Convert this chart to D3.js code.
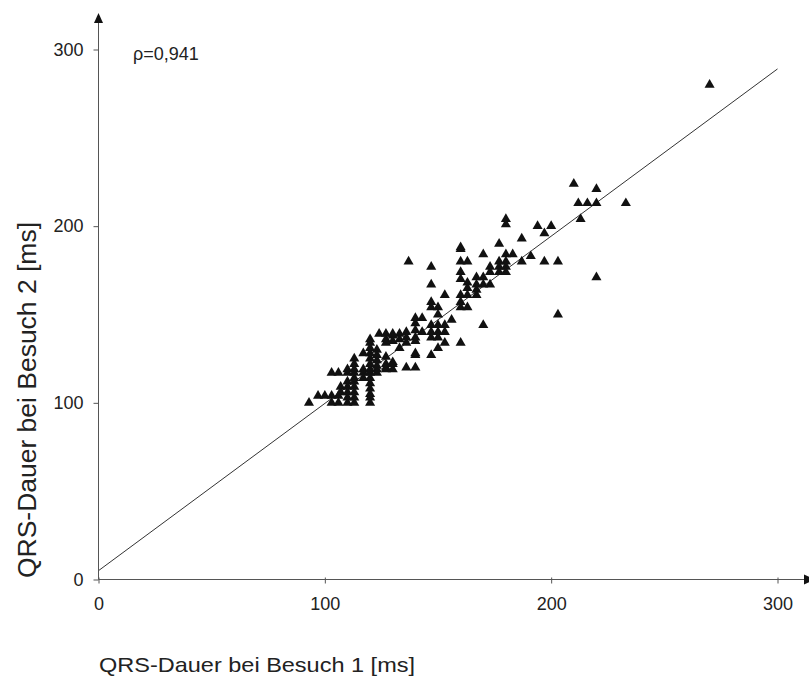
<!DOCTYPE html>
<html>
<head>
<meta charset="utf-8">
<script src="https://cdn.jsdelivr.net/npm/d3@7"></script>
<style>
  html, body { margin: 0; padding: 0; background: #fff; }
  svg { display: block; font-family: "Liberation Sans", Arial, sans-serif; }
</style>
</head>
<body>
<svg id="chart" width="809" height="677"></svg>
<script>
// ---- data ----
const xTicks = [0, 100, 200, 300];
const yTicks = [0, 100, 200, 300];
const xTitle = "QRS-Dauer bei Besuch 1 [ms]";
const yTitle = "QRS-Dauer bei Besuch 2 [ms]";
const rhoLabel = "\u03C1=0,941";
const fitX = [0, 300];
const fitY = [5, 289];
const visit1 = [
  93, 97, 100, 103, 103, 106, 106, 110, 113,
  107, 107, 110, 110, 110, 110, 113, 113, 113, 113, 113,
  103, 106, 110, 110, 113, 113, 113, 113, 117, 117, 117,
  120, 120, 120, 120, 120, 120, 120, 120, 120, 120, 120, 120, 120, 120,
  123, 123, 123, 123, 123,
  127, 127, 127, 127, 127, 127,
  130, 130, 130, 130, 130,
  133, 133, 133,
  136, 136, 136, 136,
  140, 140, 140, 140, 140, 140, 140,
  143, 143,
  147, 147, 147, 147, 147, 147,
  150, 150, 150, 150, 150,
  153, 153, 153,
  156,
  160, 160, 160, 160, 160, 160, 160, 160,
  163, 163, 163, 163, 163,
  167, 167, 167, 167,
  170, 170, 170, 170,
  173, 173, 173,
  177, 177, 177, 177,
  180, 180, 180, 180, 180, 180,
  183, 187, 187, 191,
  194, 197, 197, 200, 203, 203,
  210, 212, 213, 216, 220, 220, 220, 233, 270,
  137, 147, 147, 124, 127, 130, 153, 150, 140, 160, 123, 117
];
const visit2 = [
  100, 104, 104, 104, 100, 104, 100, 100, 100,
  109, 106, 112, 109, 106, 103, 114, 112, 109, 106, 103,
  117, 117, 119, 117, 125, 122, 119, 117, 119, 117, 114,
  136, 134, 131, 128, 125, 122, 119, 117, 114, 111, 108, 105, 103, 100,
  130, 124, 121, 119, 117,
  136, 134, 126, 122, 119, 120,
  138, 135, 123, 119, 122,
  139, 136, 131,
  140, 137, 134, 120,
  148, 145, 141, 137, 135, 127, 120,
  148, 140,
  157, 154, 144, 140, 137, 127,
  154, 150, 140, 137, 131,
  161, 140, 134,
  147,
  187, 180, 174, 170, 161, 157, 154, 134,
  180, 168, 165, 161, 154,
  171, 167, 164, 161,
  184, 171, 167, 144,
  177, 174, 167,
  190, 180, 177, 174,
  204, 201, 184, 180, 177, 174,
  184, 193, 180, 183,
  200, 196, 180, 200, 180, 150,
  224, 213, 204, 213, 221, 213, 171, 213, 280,
  180, 177, 167, 139, 139, 139, 144, 144, 128, 188, 127, 128
];

// ---- layout ----
const svg = d3.select("#chart");
const x = d3.scaleLinear().domain([0, 300]).range([98.5, 777.5]);
const y = d3.scaleLinear().domain([0, 300]).range([579.5, 49.5]);
const axisColor = "#555";

// regression line
svg.append("line")
  .attr("x1", x(fitX[0])).attr("y1", y(fitY[0]))
  .attr("x2", x(fitX[1])).attr("y2", y(fitY[1]))
  .attr("stroke", "#333").attr("stroke-width", 1);

// x axis
const gx = svg.append("g").attr("transform", `translate(0,${y(0)})`)
  .call(d3.axisBottom(x).tickValues(xTicks).tickSize(4).tickPadding(14));
gx.select(".domain").remove();
gx.selectAll(".tick line").attr("stroke", axisColor).attr("y1", -2);
gx.selectAll(".tick text").attr("font-size", 18).attr("fill", "#222")
  .attr("font-family", "'Liberation Sans', Arial, sans-serif");
svg.append("line").attr("x1", x(0)).attr("x2", 806).attr("y1", y(0)).attr("y2", y(0))
  .attr("stroke", axisColor).attr("stroke-width", 1);
svg.append("path")
  .attr("d", `M804,${y(0) - 5}L815,${y(0)}L804,${y(0) + 5}Z`)
  .attr("fill", "#111");

// y axis
const gy = svg.append("g").attr("transform", `translate(${x(0)},0)`)
  .call(d3.axisLeft(y).tickValues(yTicks).tickSize(5).tickPadding(10));
gy.select(".domain").remove();
gy.selectAll(".tick line").attr("stroke", axisColor);
gy.selectAll(".tick text").attr("font-size", 18).attr("fill", "#222")
  .attr("font-family", "'Liberation Sans', Arial, sans-serif");
svg.append("line").attr("x1", x(0)).attr("x2", x(0)).attr("y1", y(0)).attr("y2", 18)
  .attr("stroke", axisColor).attr("stroke-width", 1);
svg.append("path")
  .attr("d", `M${x(0) - 4.5},23L${x(0)},13L${x(0) + 4.5},23Z`)
  .attr("fill", "#111");

// points
const pts = visit1.map((v, i) => [v, visit2[i]]);
svg.append("g").selectAll("path").data(pts).join("path")
  .attr("d", d3.symbol(d3.symbolTriangle, 44))
  .attr("transform", d => `translate(${x(d[0])},${y(d[1])})`)
  .attr("fill", "#111");

// rho label
svg.append("text").attr("x", 133).attr("y", 59.5)
  .attr("font-size", 18).attr("fill", "#222").text(rhoLabel);

// titles
svg.append("text").attr("x", 99).attr("y", 672)
  .attr("font-size", 21).attr("fill", "#222")
  .attr("textLength", 316).attr("lengthAdjust", "spacingAndGlyphs")
  .text(xTitle);
svg.append("text")
  .attr("transform", "translate(36,578) rotate(-90)")
  .attr("font-size", 25).attr("fill", "#222")
  .attr("textLength", 356).attr("lengthAdjust", "spacingAndGlyphs")
  .text(yTitle);
</script>
</body>
</html>
